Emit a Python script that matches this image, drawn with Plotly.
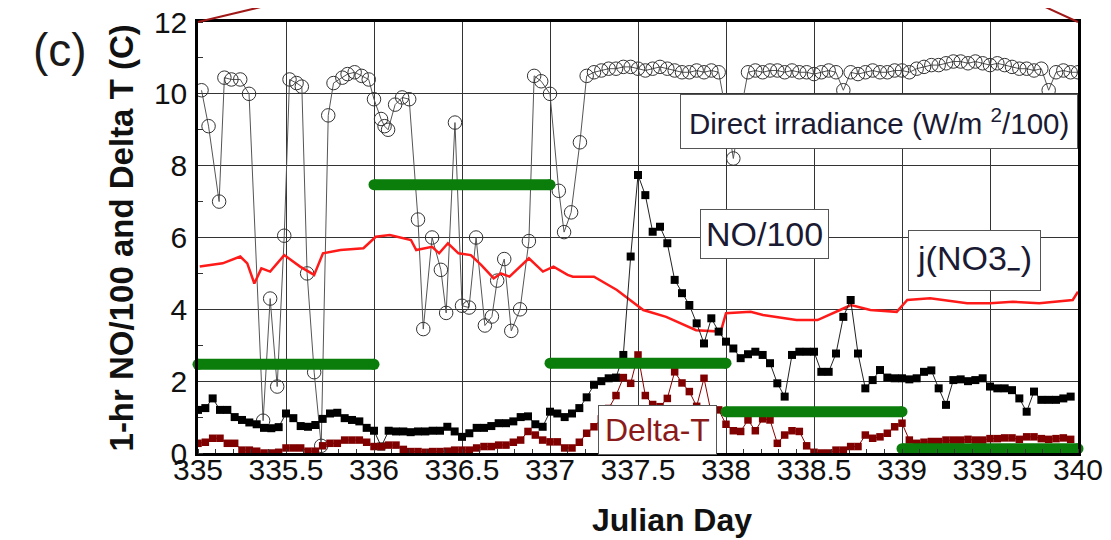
import plotly.graph_objects as go

# ---------------- data ----------------
# Direct irradiance (W/m2/100): irregular early part, then hourly from hour 53
irr_early_day = [335.02, 335.06, 335.12, 335.15, 335.19, 335.24, 335.29, 335.37, 335.41, 335.45,
                 335.49, 335.52, 335.56, 335.59, 335.62, 335.66, 335.70, 335.74, 335.77, 335.82,
                 335.85, 335.89, 335.93, 335.97, 336.00, 336.04, 336.06, 336.08, 336.12, 336.16,
                 336.20, 336.25, 336.28, 336.33, 336.38, 336.41, 336.46, 336.50, 336.54, 336.58,
                 336.63, 336.67, 336.70, 336.74, 336.78, 336.83, 336.88, 336.91, 336.95, 337.00,
                 337.05, 337.08, 337.12, 337.17]
irr_early = [10.1, 9.1, 7.0, 10.45, 10.4, 10.4, 10.0, 0.9, 4.3, 1.85,
             6.05, 10.4, 10.3, 10.2, 5.0, 2.25, 0.2, 9.4, 10.3, 10.45,
             10.55, 10.6, 10.5, 10.4, 9.85, 9.3, 9.1, 9.0, 9.7, 9.9,
             9.85, 6.5, 3.45, 6.0, 5.1, 3.9, 9.2, 4.1, 4.05, 6.0,
             3.55, 3.8, 4.8, 5.4, 3.4, 4.0, 5.9, 10.5, 10.35, 10.0,
             7.3, 6.15, 6.7, 8.65]
irr_late_first_hour = 53
irr_late = [10.5, 10.6, 10.65, 10.7, 10.7, 10.75, 10.75, 10.7,
            10.65, 10.7, 10.75, 10.7, 10.65, 10.6, 10.6, 10.65, 10.6, 10.65, 10.6,
            9.5, 8.2, 9.5,
            10.6, 10.65, 10.6, 10.65, 10.65, 10.6, 10.65, 10.6, 10.6, 10.55, 10.6, 10.65, 10.6,
            10.1,
            10.6, 10.55, 10.6, 10.65, 10.6, 10.6, 10.65, 10.65, 10.6, 10.7, 10.75, 10.8,
            10.8, 10.85, 10.9, 10.9, 10.85, 10.9, 10.85, 10.8, 10.85, 10.8, 10.75, 10.7,
            10.7, 10.65, 10.7, 10.1, 10.6, 10.65, 10.6, 10.6]

# hourly NO/100 and Delta-T starting at day 335.0
no100 = [1.2, 1.25, 1.52, 1.2, 1.2, 1.0, 0.92, 0.85, 0.8, 0.7,
         0.69, 0.72, 1.1, 0.97, 0.75, 0.73, 0.78, 0.95, 1.1, 1.12,
         0.97, 0.92, 0.88, 0.7, 0.62, 0.18, 0.62, 0.6, 0.6, 0.58,
         0.6, 0.6, 0.62, 0.62, 0.73, 0.6, 0.45, 0.55, 0.7, 0.7,
         0.75, 0.83, 0.83, 0.88, 1.0, 1.02, 0.8, 0.73, 1.15, 1.1,
         1.0, 1.1, 1.25, 1.55, 1.9, 2.0, 2.08, 2.1, 2.73, 5.47,
         7.74, 7.18, 6.16, 6.3, 5.84, 4.82, 4.45, 4.12, 3.61, 3.05,
         3.75, 3.38, 3.1, 2.91, 2.64, 2.75, 2.82, 2.73, 2.5, 1.94,
         1.57, 2.73, 2.82, 2.82, 2.82, 2.26, 2.26, 2.77, 3.79, 4.26,
         2.77, 1.8, 2.03, 2.31, 2.1, 2.08, 2.08, 2.05, 2.08, 2.26,
         2.3, 1.8, 1.34, 2.03, 2.05, 2.0, 2.03, 2.08, 1.85, 1.8,
         1.8, 1.75, 1.52, 1.15, 1.71, 1.48, 1.48, 1.48, 1.52, 1.57]
delta_t = [0.27, 0.3, 0.41, 0.41, 0.27, 0.27, 0.08, 0.08, 0.05, 0.0,
           0.0, 0.02, 0.14, 0.14, 0.14, 0.05, 0.05, 0.2, 0.27, 0.27,
           0.36, 0.36, 0.36, 0.3, 0.18, 0.18, 0.22, 0.22, 0.1, 0.04,
           0.04, 0.02, 0.04, 0.04, 0.05, 0.08, 0.08, 0.08, 0.14, 0.18,
           0.18, 0.22, 0.22, 0.3, 0.36, 0.6, 0.5, 0.36, 0.31, 0.31,
           0.14, 0.14, 0.3, 0.55, 0.73, 0.95, 1.24, 1.6, 2.1, 1.94,
           2.73, 1.6, 1.35, 1.29, 1.52, 2.26, 1.95, 1.71, 1.3, 2.08,
           1.1, 1.2, 0.8, 0.62, 0.6, 0.92, 0.62, 0.95, 0.92, 0.27,
           0.5, 0.62, 0.6, 0.2, 0.02, 0.0, 0.0, 0.08, 0.08, 0.18,
           0.18, 0.5, 0.41, 0.45, 0.55, 0.73, 0.83, 0.36, 0.27, 0.3,
           0.32, 0.32, 0.36, 0.36, 0.36, 0.38, 0.36, 0.36, 0.4, 0.4,
           0.42, 0.42, 0.38, 0.45, 0.45, 0.4, 0.38, 0.4, 0.42, 0.38]

# j(NO3-) line
j_day = [335.01, 335.14, 335.24, 335.28, 335.32, 335.36, 335.41, 335.49, 335.58, 335.66,
         335.71, 335.81, 335.94, 336.01, 336.09, 336.21, 336.24, 336.33, 336.37, 336.42,
         336.48, 336.55, 336.61, 336.68, 336.72, 336.77, 336.88, 336.96, 337.02, 337.10,
         337.13, 337.25, 337.38, 337.53, 337.66, 337.83, 337.97, 338.00, 338.14, 338.21,
         338.40, 338.52, 338.67, 338.71, 338.82, 338.97, 339.03, 339.16, 339.37, 339.50,
         339.63, 339.78, 339.97, 340.0]
j_val = [5.19, 5.28, 5.47, 5.28, 4.72, 5.14, 5.05, 5.51, 5.19, 4.96,
         5.56, 5.65, 5.7, 6.02, 6.07, 5.93, 5.65, 5.74, 5.56, 5.84,
         5.56, 5.51, 5.23, 4.86, 5.0, 4.91, 5.42, 5.05, 5.19, 4.96,
         4.91, 4.91, 4.54, 3.98, 3.79, 3.42, 3.38, 3.89, 3.93, 3.84,
         3.7, 3.7, 4.03, 4.12, 3.98, 3.93, 4.26, 4.31, 4.17, 4.17,
         4.21, 4.17, 4.26, 4.49]

# green bars
bar_start = [335.0, 336.0, 337.0, 338.0, 339.0]
bar_end = [336.0, 337.0, 338.0, 339.0, 340.0]
bar_level = [2.47, 7.47, 2.5, 1.15, 0.12]

x_ticks = [335, 335.5, 336, 336.5, 337, 337.5, 338, 338.5, 339, 339.5, 340]
y_ticks = [0, 2, 4, 6, 8, 10, 12]

# ---------------- build ----------------
hour_days = [335 + h / 24 for h in range(len(no100))]
irr_days = irr_early_day + [335 + h / 24 for h in range(irr_late_first_hour, irr_late_first_hour + len(irr_late))]
irr_vals = irr_early + irr_late

FONT = "Liberation Sans, Arial, sans-serif"
fig = go.Figure()

fig.add_trace(go.Scatter(x=irr_days, y=irr_vals, mode="lines+markers",
                         line=dict(color="#555555", width=1),
                         marker=dict(symbol="circle-open", size=13.5, color="#333333",
                                     line=dict(width=1, color="#333333")),
                         showlegend=False))
fig.add_trace(go.Scatter(x=j_day, y=j_val, mode="lines",
                         line=dict(color="#ff1a1a", width=2.5), showlegend=False))
fig.add_trace(go.Scatter(x=hour_days, y=no100, mode="lines+markers",
                         line=dict(color="#222222", width=1),
                         marker=dict(symbol="square", size=8, color="black"),
                         showlegend=False))
fig.add_trace(go.Scatter(x=hour_days, y=delta_t, mode="lines+markers",
                         line=dict(color="#8b0000", width=1),
                         marker=dict(symbol="square", size=7.5, color="#800000"),
                         showlegend=False))
gx, gy = [], []
for s, e, lv in zip(bar_start, bar_end, bar_level):
    gx += [s, e, None]
    gy += [lv, lv, None]
fig.add_trace(go.Scatter(x=gx, y=gy, mode="lines+markers",
                         line=dict(color="#0a7d0a", width=11),
                         marker=dict(size=11, color="#0a7d0a"),
                         cliponaxis=False, showlegend=False))

annotations = [
    dict(x=337.74, y=9.24, xref="x", yref="y", xanchor="left", yanchor="middle",
         text="Direct irradiance (W/m <sup>2</sup>/100)", showarrow=False,
         font=dict(family=FONT, size=29.5, color="#1a1a33"),
         bgcolor="white", bordercolor="#555555", borderwidth=1, borderpad=8),
    dict(x=338.216, y=6.1, xref="x", yref="y", xanchor="center", yanchor="middle",
         text="NO/100", showarrow=False, font=dict(family=FONT, size=34, color="#1a1a33"),
         bgcolor="white", bordercolor="#555555", borderwidth=1, borderpad=5),
    dict(x=339.41, y=5.36, xref="x", yref="y", xanchor="center", yanchor="middle",
         text="j(NO3<sub><b>−</b></sub>)", showarrow=False, font=dict(family=FONT, size=34, color="#1a1a33"),
         bgcolor="white", bordercolor="#555555", borderwidth=1, borderpad=8),
    dict(x=337.61, y=0.63, xref="x", yref="y", xanchor="center", yanchor="middle",
         text="Delta-T", showarrow=False, font=dict(family=FONT, size=32, color="#8b1a1a"),
         bgcolor="white", bordercolor="#555555", borderwidth=1, borderpad=6),
    dict(x=-0.157, y=0.935, xref="paper", yref="paper", xanchor="center", yanchor="middle",
         text="(c)", showarrow=False, font=dict(family=FONT, size=46, color="#1a1a1a")),
    dict(x=-0.0864, y=0.5, xref="paper", yref="paper", xanchor="center", yanchor="middle",
         text="<b>1-hr NO/100 and Delta T (C)</b>", textangle=-90, showarrow=False,
         font=dict(family=FONT, size=33, color="#111111")),
    dict(x=0.539, y=-0.155, xref="paper", yref="paper", xanchor="center", yanchor="middle",
         text="<b>Julian Day</b>", showarrow=False, font=dict(family=FONT, size=32, color="#111111")),
]

shapes = [
    dict(type="line", xref="paper", yref="paper", x0=0, y0=1, x1=0.1045, y1=1.051,
         line=dict(color="#a01818", width=2)),
    dict(type="line", xref="paper", yref="paper", x0=1, y0=1, x1=0.9455, y1=1.051,
         line=dict(color="#a01818", width=2)),
]

# page has an 8px body margin, so the figure is 8px smaller and margins shifted
fig.update_layout(
    width=1103, height=532,
    margin=dict(l=190, r=33, t=14, b=87, autoexpand=False),
    paper_bgcolor="white", plot_bgcolor="white",
    font=dict(family=FONT, size=30, color="#111111"),
    annotations=annotations, shapes=shapes,
)
fig.update_xaxes(range=[335, 340], tickvals=x_ticks, ticktext=[str(v) for v in x_ticks],
                 showgrid=True, gridcolor="#333333", gridwidth=1.3, automargin=False,
                 showline=True, linecolor="black", linewidth=2.5, mirror=True,
                 ticks="", tickfont=dict(size=30), zeroline=False, ticklabelstandoff=-12,
                 ticklabeloverflow="allow",
                 minor=dict(ticks="inside", ticklen=4, dtick=0.1, tickcolor="#333333", showgrid=False))
fig.update_yaxes(range=[0, 12], tickvals=y_ticks, ticktext=[str(v) for v in y_ticks],
                 showgrid=True, gridcolor="#333333", gridwidth=1.3, automargin=False,
                 showline=True, linecolor="black", linewidth=2.5, mirror=True,
                 ticks="", tickfont=dict(size=30), zeroline=False, ticklabelstandoff=2,
                 ticklabeloverflow="allow",
                 minor=dict(ticks="inside", ticklen=5, dtick=1, tickcolor="#333333", showgrid=False))

fig.write_html("out.html")
